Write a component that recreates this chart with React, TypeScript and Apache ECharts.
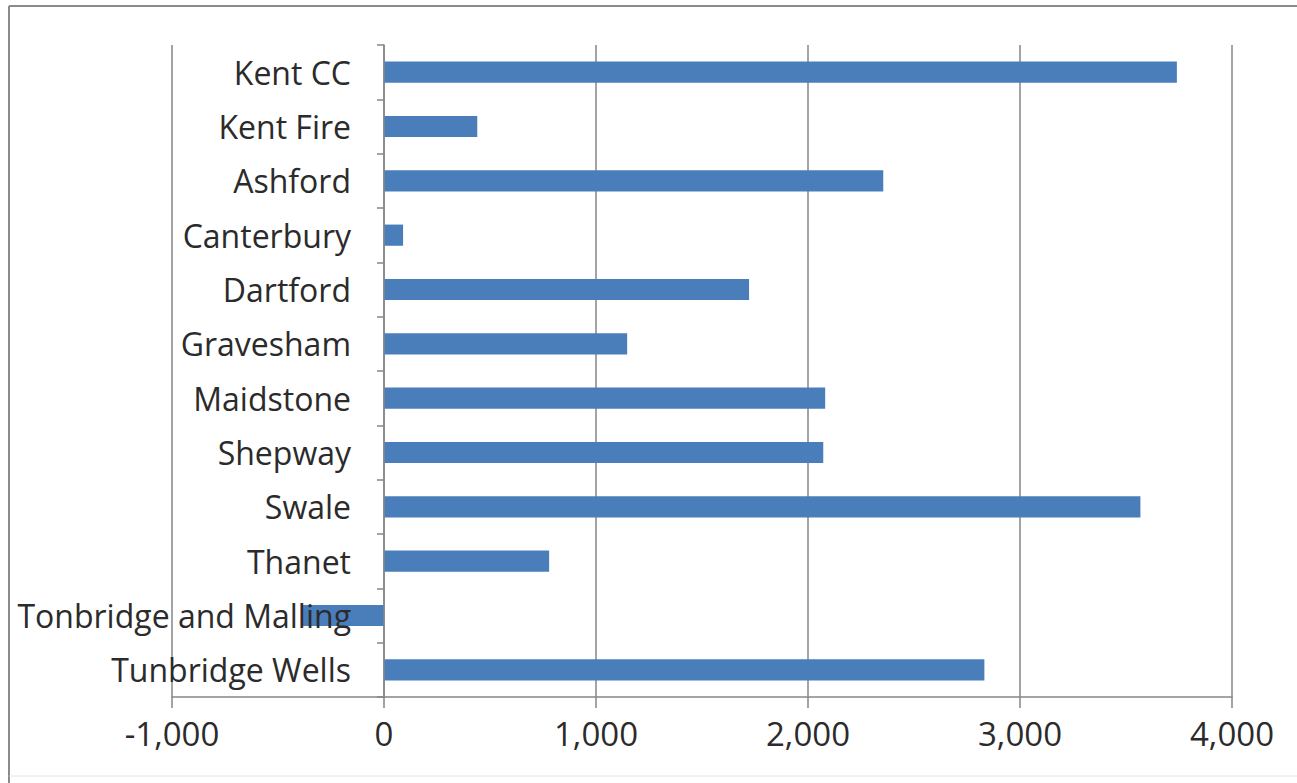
import React, { useEffect, useRef } from "react";
import * as echarts from "echarts";

const categories = [
  "Kent CC",
  "Kent Fire",
  "Ashford",
  "Canterbury",
  "Dartford",
  "Gravesham",
  "Maidstone",
  "Shepway",
  "Swale",
  "Thanet",
  "Tonbridge and Malling",
  "Tunbridge Wells",
];
const values = [3740, 440, 2355, 90, 1722, 1147, 2081, 2072, 3568, 779, -390, 2832];
const xMin = -1000;
const xMax = 4000;
const xStep = 1000;

const FONT = "'Open Sans'";
const TEXT = "#2b2b2b";
const GRID = "#868686";
const GRID_LEFT = 172;
const GRID_RIGHT = 65;

export default function App() {
  const ref = useRef<HTMLDivElement>(null);
  useEffect(() => {
    document.body.style.margin = "0";
    const chart = echarts.init(ref.current!, null, { renderer: "svg" });
    const plotWidth = 1297 - GRID_LEFT - GRID_RIGHT;
    const zeroOffset = (plotWidth * (0 - xMin)) / (xMax - xMin);
    chart.setOption({
      animation: false,
      backgroundColor: "#ffffff",
      grid: {
        left: GRID_LEFT,
        right: GRID_RIGHT,
        top: 45,
        bottom: 86,
        containLabel: false,
        outerBoundsMode: "none",
      },
      xAxis: {
        type: "value",
        min: xMin,
        max: xMax,
        interval: xStep,
        axisLine: { show: true, onZero: false, lineStyle: { color: GRID, width: 1.5 } },
        axisTick: { show: true, length: 11, lineStyle: { color: GRID, width: 1.5 } },
        splitLine: { show: true, lineStyle: { color: GRID, width: 1.5 } },
        axisLabel: {
          fontFamily: FONT,
          fontSize: 33,
          color: TEXT,
          margin: 20,
          formatter: (v: number) => v.toLocaleString("en-US"),
        },
      },
      yAxis: {
        type: "category",
        data: categories,
        inverse: true,
        z: 5,
        offset: -zeroOffset,
        axisLine: { show: true, onZero: false, lineStyle: { color: GRID, width: 1.5 } },
        axisTick: { show: true, length: 7, lineStyle: { color: GRID, width: 1.5 } },
        splitLine: { show: false },
        axisLabel: {
          fontFamily: FONT,
          fontSize: 32,
          color: TEXT,
          margin: 33,
        },
      },
      series: [
        {
          type: "bar",
          data: values,
          barCategoryGap: "61%",
          itemStyle: { color: "#4a7ebb" },
        },
      ],
      graphic: [
        { type: "line", shape: { x1: 9, y1: 6, x2: 9, y2: 783 }, style: { stroke: "#8a8a8a", lineWidth: 2 } },
        { type: "line", shape: { x1: 9, y1: 6, x2: 1297, y2: 6 }, style: { stroke: "#8a8a8a", lineWidth: 2 } },
        { type: "line", shape: { x1: 9, y1: 776, x2: 1297, y2: 776 }, style: { stroke: "#e6e6e6", lineWidth: 1 } },
      ],
    });
    return () => chart.dispose();
  }, []);
  return <div ref={ref} style={{ width: 1297, height: 783 }} />;
}
